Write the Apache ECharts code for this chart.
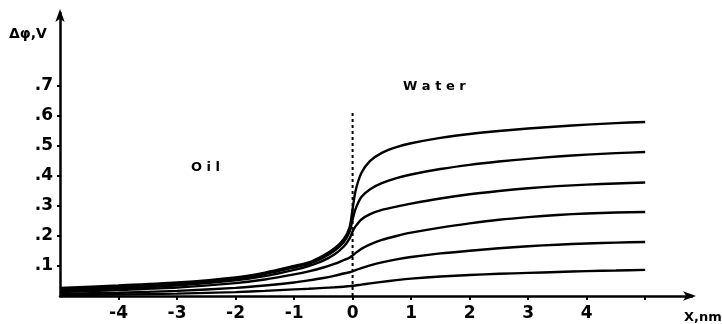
<!DOCTYPE html>
<html>
<head>
<meta charset="utf-8">
<script src="https://cdn.jsdelivr.net/npm/echarts@6/dist/echarts.min.js"></script>
<style>
  html, body { margin: 0; padding: 0; background: #fff; }
  #chart { width: 722px; height: 324px; }
</style>
</head>
<body>
<div id="chart"></div>
<script>
// Distance from the interface (nm); oil side negative, water side positive
const xs = [-5, -4, -3, -2, -1.5, -1, -0.75, -0.5, -0.3, -0.15, -0.05, 0, 0.05, 0.15, 0.3, 0.5, 0.75, 1, 1.5, 2, 2.5, 3, 3.5, 4, 4.5, 5];

// Potential profiles Δφ (V), from the largest total drop to the smallest
const phi1 = [0.027, 0.035, 0.045, 0.062, 0.078, 0.100, 0.112, 0.135, 0.160, 0.190, 0.230, 0.290, 0.350, 0.410, 0.450, 0.477, 0.496, 0.509, 0.527, 0.540, 0.550, 0.558, 0.565, 0.571, 0.576, 0.580];
const phi2 = [0.022, 0.030, 0.040, 0.057, 0.073, 0.095, 0.107, 0.128, 0.152, 0.180, 0.215, 0.255, 0.290, 0.330, 0.356, 0.376, 0.393, 0.405, 0.423, 0.437, 0.448, 0.457, 0.465, 0.471, 0.476, 0.480];
const phi3 = [0.018, 0.025, 0.035, 0.052, 0.066, 0.087, 0.100, 0.118, 0.140, 0.165, 0.192, 0.215, 0.232, 0.255, 0.273, 0.287, 0.298, 0.308, 0.325, 0.339, 0.350, 0.359, 0.366, 0.371, 0.375, 0.378];
const phi4 = [0.013, 0.020, 0.028, 0.043, 0.055, 0.072, 0.082, 0.095, 0.108, 0.120, 0.128, 0.135, 0.143, 0.157, 0.172, 0.187, 0.200, 0.211, 0.228, 0.242, 0.254, 0.263, 0.270, 0.275, 0.278, 0.280];
const phi5 = [0.007, 0.011, 0.017, 0.027, 0.035, 0.045, 0.052, 0.060, 0.068, 0.075, 0.079, 0.082, 0.086, 0.093, 0.102, 0.112, 0.122, 0.130, 0.142, 0.151, 0.159, 0.166, 0.171, 0.175, 0.178, 0.180];
const phi6 = [0.003, 0.005, 0.008, 0.013, 0.017, 0.022, 0.024, 0.027, 0.029, 0.031, 0.033, 0.034, 0.035, 0.038, 0.042, 0.047, 0.053, 0.058, 0.065, 0.070, 0.074, 0.077, 0.080, 0.083, 0.085, 0.087];

const profiles = [phi1, phi2, phi3, phi4, phi5, phi6];

// Axis ticks and labels
const xTicks = [-4, -3, -2, -1, 0, 1, 2, 3, 4, 5];
const xLabels = [-4, -3, -2, -1, 0, 1, 2, 3, 4];
const yTicks = [0.1, 0.2, 0.3, 0.4, 0.5, 0.6, 0.7];

// Interface position marker (dotted vertical line)
const interfaceLine = [[0, 0], [0, 0.61]];

const numFont = { fontFamily: 'DejaVu Sans', fontSize: 17, color: '#000', fontWeight: 'bold' };

const chart = echarts.init(document.getElementById('chart'), null, { renderer: 'canvas' });

const series = profiles.map((p, k) => ({
  name: 'phi' + (k + 1),
  type: 'line',
  data: xs.map((x, i) => [x, p[i]]),
  showSymbol: false,
  smooth: 0.25,
  lineStyle: { color: '#000', width: 2.4 },
  z: 3
}));

series.push({
  name: 'interface',
  type: 'line',
  data: interfaceLine,
  showSymbol: false,
  lineStyle: { color: '#000', width: 2, type: [3, 3] },
  z: 2
});

chart.setOption({
  backgroundColor: '#fff',
  animation: false,
  grid: { left: 60, right: 30, top: 13, bottom: 28, containLabel: false },
  xAxis: {
    type: 'value',
    min: -5,
    max: 5.8,
    interval: 1,
    axisLine: { show: true, onZero: false, lineStyle: { color: '#000', width: 2.5 }, symbol: ['none', 'arrow'], symbolSize: [7, 13], symbolOffset: [0, 4] },
    axisTick: { show: true, inside: false, length: 4, lineStyle: { color: '#000', width: 2 }, customValues: xTicks },
    axisLabel: Object.assign({ margin: 9, customValues: xLabels, formatter: v => String(v) }, numFont),
    splitLine: { show: false }
  },
  yAxis: {
    type: 'value',
    min: 0,
    max: 0.943,
    interval: 0.1,
    axisLine: { show: true, onZero: false, lineStyle: { color: '#000', width: 2.5 }, symbol: ['none', 'arrow'], symbolSize: [7, 13], symbolOffset: [0, 4] },
    axisTick: { show: true, inside: false, length: 3, lineStyle: { color: '#000', width: 2 }, customValues: yTicks },
    axisLabel: Object.assign({ margin: 7, customValues: yTicks, formatter: v => '.' + Math.round(v * 10) }, numFont),
    splitLine: { show: false }
  },
  graphic: [
    { type: 'text', left: 9, top: 27, style: { text: 'Δφ,V', font: 'bold 14px "DejaVu Sans"', fill: '#000' } },
    { type: 'text', left: 684, top: 311, style: { text: 'X,nm', font: 'bold 13px "DejaVu Sans"', fill: '#000' } },
    { type: 'text', left: 191, top: 161, style: { text: 'O i l', font: 'bold 13px "DejaVu Sans"', fill: '#000' } },
    { type: 'text', left: 403, top: 80, style: { text: 'W a t e r', font: 'bold 13px "DejaVu Sans"', fill: '#000' } }
  ],
  series: series
});
</script>
</body>
</html>
